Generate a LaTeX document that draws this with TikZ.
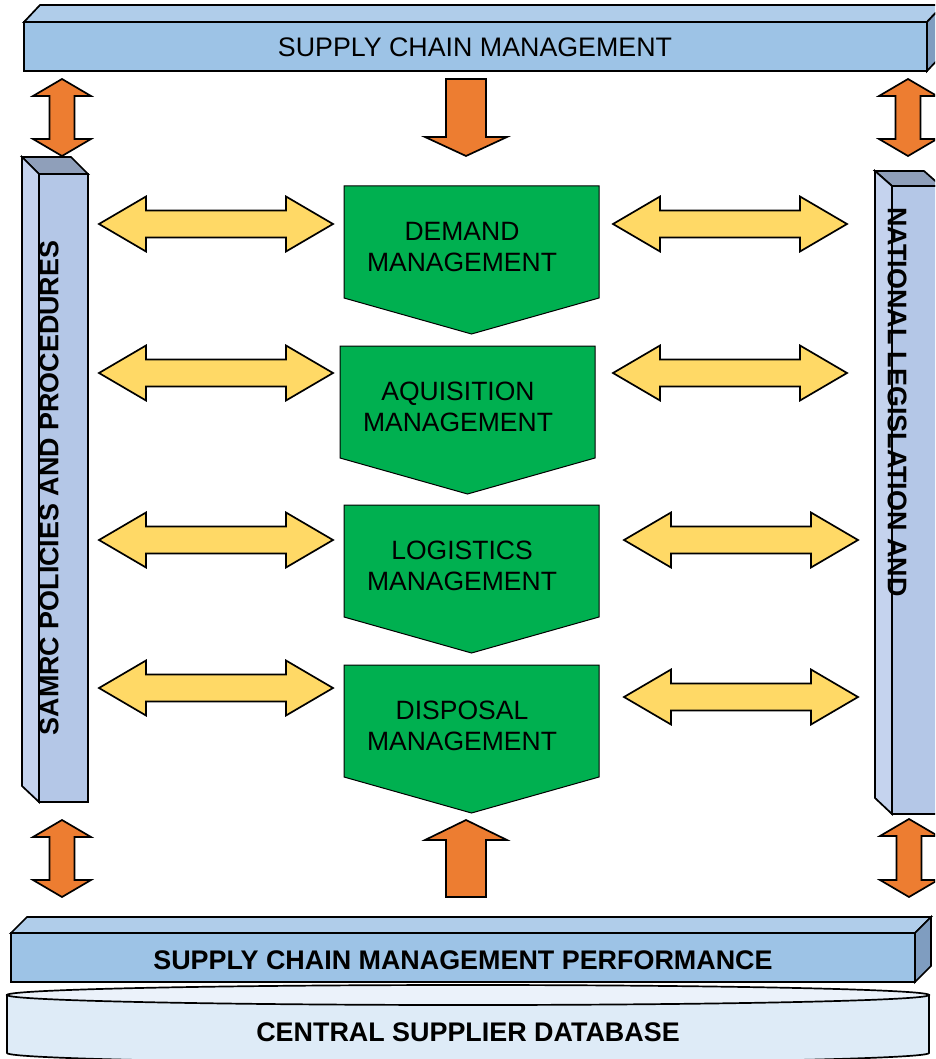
\documentclass[tikz,border=0pt]{standalone}
\usepackage{fontspec}
\setmainfont{Liberation Sans}
\definecolor{barfront}{HTML}{9DC3E6}
\definecolor{bartop}{HTML}{B0CDEA}
\definecolor{barside}{HTML}{7F9DC0}
\definecolor{pillarfront}{HTML}{B4C7E7}
\definecolor{pillarside}{HTML}{C5D3EE}
\definecolor{pillartop}{HTML}{8F9FBA}
\definecolor{stagegreen}{HTML}{00B050}
\definecolor{linkorange}{HTML}{ED7D31}
\definecolor{linkyellow}{HTML}{FFD966}
\definecolor{dbbody}{HTML}{DEEBF7}
\definecolor{dbtop}{HTML}{EBF2FA}
\tikzset{
	edge3d/.style={draw=black,line width=1.7pt,line join=miter},
	yellowlink/.style={fill=linkyellow,draw=black,line width=1.7pt},
	orangelink/.style={fill=linkorange,draw=black,line width=1.7pt},
	stagebox/.style={fill=stagegreen,draw=black,line width=1pt},
	stagetext/.style={align=center,font=\fontsize{26.5}{31}\selectfont},
	bartext/.style={font=\fontsize{26.8}{31}\selectfont},
	boldtext/.style={font=\bfseries\fontsize{26.9}{31}\selectfont}
}
\newcommand{\hlink}[3]{%
	\draw[yellowlink] (#1,#3) -- ({#1+47},{#3-27.5}) -- ({#1+47},{#3-13.5}) -- ({#2-47},{#3-13.5}) -- ({#2-47},{#3-27.5}) -- (#2,#3) -- ({#2-47},{#3+27.5}) -- ({#2-47},{#3+13.5}) -- ({#1+47},{#3+13.5}) -- ({#1+47},{#3+27.5}) -- cycle;}
\newcommand{\vlink}[3]{%
	\draw[orangelink] (#1,#2) -- ({#1+29},{#2+17}) -- ({#1+12.5},{#2+17}) -- ({#1+12.5},{#3-17}) -- ({#1+29},{#3-17}) -- (#1,#3) -- ({#1-29},{#3-17}) -- ({#1-12.5},{#3-17}) -- ({#1-12.5},{#2+17}) -- ({#1-29},{#2+17}) -- cycle;}
\newcommand{\mgmtstage}[4]{%
	\draw[stagebox] (#1,#2) -- ({#1+255},#2) -- ({#1+255},{#2+112}) -- ({#1+127.5},{#2+148}) -- (#1,{#2+112}) -- cycle;
	\node[stagetext] (#3) at ({#1+118},{#2+61}) {#4};}

\begin{document}
\begin{tikzpicture}[x=1pt,y=-1pt]
	\useasboundingbox (0,0) rectangle (935,1059);
	\clip (0,0) rectangle (935,1059);
	
	\draw[edge3d,fill=bartop] (24,22) -- (40,5) -- (943,5) -- (927,22) -- cycle;
	\draw[edge3d,fill=barside] (927,22) -- (943,5) -- (943,54) -- (927,71) -- cycle;
	\draw[edge3d,fill=barfront] (24,22) rectangle (927,71);
	\node[bartext] (scm) at (475,47) {SUPPLY CHAIN MANAGEMENT};
	
	\draw[edge3d,fill=pillartop] (22,157) -- (71,157) -- (88,174) -- (39,174) -- cycle;
	\draw[edge3d,fill=pillarside] (22,157) -- (39,174) -- (39,802) -- (22,786) -- cycle;
	\draw[edge3d,fill=pillarfront] (39,174) rectangle (88,802);
	\node[boldtext,rotate=90] (samrc) at (49,488) {SAMRC POLICIES AND PROCEDURES};
	
	\draw[edge3d,fill=pillartop] (875,171) -- (924,171) -- (941,186) -- (892,186) -- cycle;
	\draw[edge3d,fill=pillarside] (875,171) -- (892,186) -- (892,814) -- (875,798) -- cycle;
	\draw[edge3d,fill=pillarfront] (892,186) rectangle (941,814);
	\node[boldtext,rotate=-90] (natleg) at (897,402) {NATIONAL LEGISLATION AND};
	
	\vlink{62}{79}{156}
	\vlink{908}{79}{156}
	\vlink{62}{820}{897}
	\vlink{909}{819}{897}
	\draw[orangelink] (446,79) -- (486,79) -- (486,137) -- (507,137) -- (466,156) -- (425,137) -- (446,137) -- cycle;
	\draw[orangelink] (466,820) -- (507,840) -- (486,840) -- (486,897) -- (446,897) -- (446,840) -- (425,840) -- cycle;
	
	\hlink{99}{333}{224}
	\hlink{613}{847}{224}
	\hlink{99}{333}{373}
	\hlink{613}{847}{373}
	\hlink{99}{333}{540}
	\hlink{624}{858}{540}
	\hlink{99}{333}{688}
	\hlink{624}{858}{697}
	
	\mgmtstage{344}{186}{demand}{DEMAND\\MANAGEMENT}
	\mgmtstage{340}{346}{aquisition}{AQUISITION\\MANAGEMENT}
	\mgmtstage{344}{505}{logistics}{LOGISTICS\\MANAGEMENT}
	\mgmtstage{344}{665}{disposal}{DISPOSAL\\MANAGEMENT}
	
	\draw[edge3d,fill=dbbody] (7,995) -- (7,1053) arc[start angle=180,end angle=0,x radius=461,y radius=10] -- (929,995) -- cycle;
	\draw[edge3d,fill=dbtop] (468,995) ellipse[x radius=461,y radius=10];
	\node[boldtext] (csd) at (468,1032) {CENTRAL SUPPLIER DATABASE};
	
	\draw[edge3d,fill=bartop] (11,933) -- (27,917) -- (931,917) -- (915,933) -- cycle;
	\draw[edge3d,fill=barside] (915,933) -- (931,917) -- (931,966) -- (915,982) -- cycle;
	\draw[edge3d,fill=barfront] (11,933) rectangle (915,982);
	\node[boldtext] (scmp) at (463,960) {SUPPLY CHAIN MANAGEMENT PERFORMANCE};
\end{tikzpicture}
\end{document}
